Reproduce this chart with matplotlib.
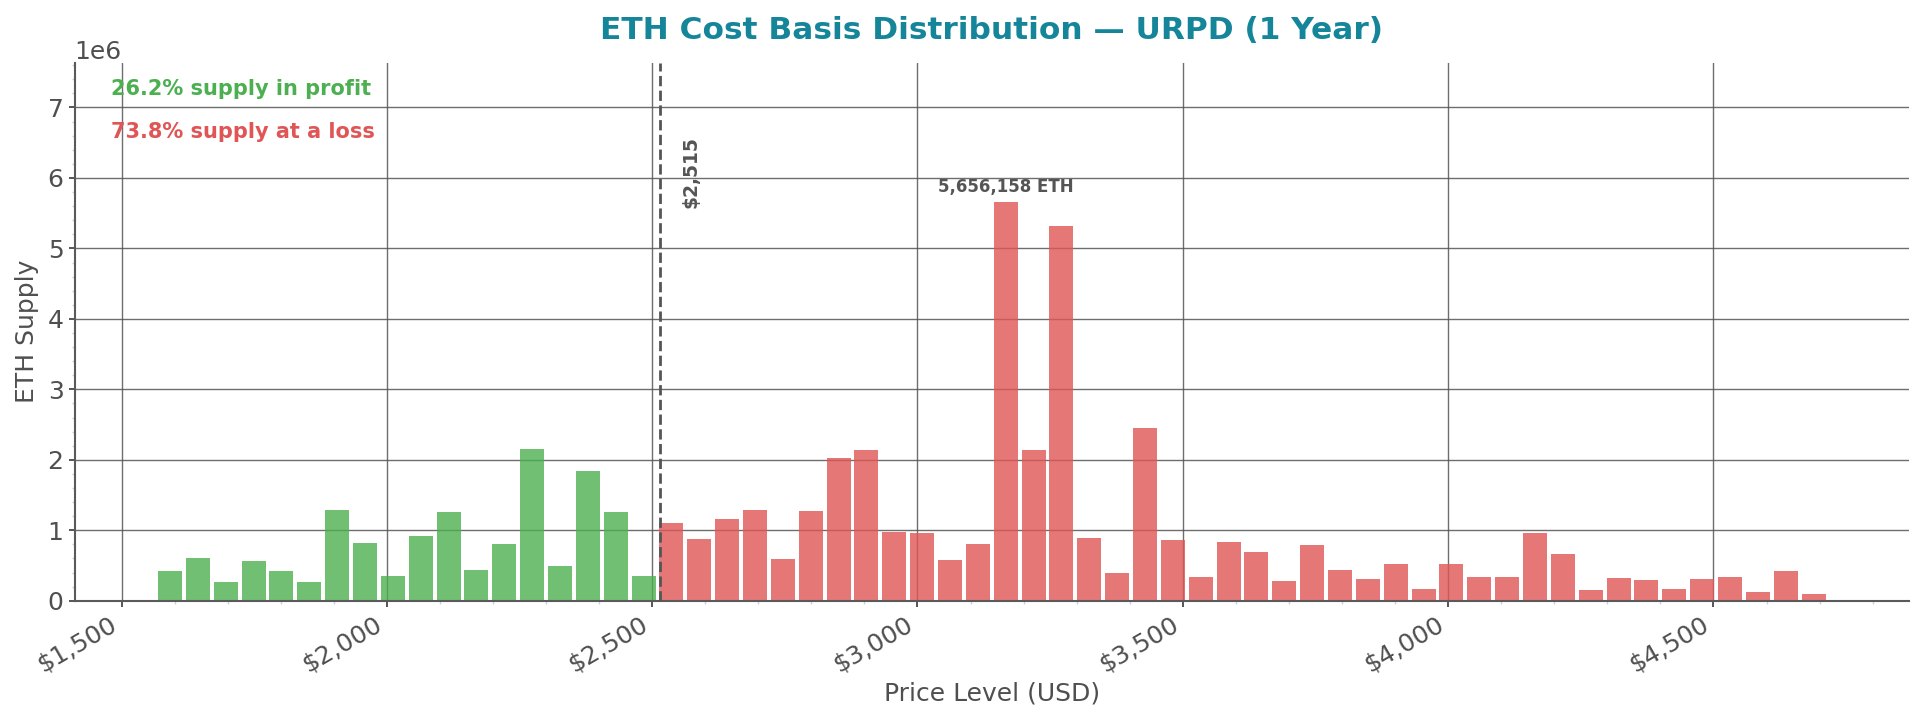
import numpy as np
import matplotlib
matplotlib.use("Agg")
import matplotlib.pyplot as plt
from matplotlib.ticker import MultipleLocator, FuncFormatter

# ---------------- data ----------------
bin_start = 1565.0      # lower edge of first price bin (USD)
bin_width = 52.5        # width of each price bin (USD)
current_price = 2515
pct_in_profit = 26.2
pct_at_loss = 73.8

# ETH supply per price bin (millions of ETH)
supply_profit_m = [0.419, 0.605, 0.262, 0.562, 0.419, 0.262, 1.290, 0.819, 0.348,
                   0.919, 1.262, 0.433, 0.805, 2.148, 0.490, 1.848, 1.262, 0.348]
supply_loss_m = [1.105, 0.876, 1.162, 1.290, 0.590, 1.276, 2.019, 2.133, 0.981,
                 0.962, 0.576, 0.805, 5.656158, 2.133, 5.318, 0.890, 0.390, 2.448,
                 0.862, 0.333, 0.833, 0.690, 0.276, 0.790, 0.433, 0.305, 0.519,
                 0.162, 0.519, 0.333, 0.333, 0.962, 0.662, 0.148, 0.319, 0.290,
                 0.162, 0.305, 0.333, 0.119, 0.419, 0.090]

supply = np.array(supply_profit_m + supply_loss_m) * 1e6
n_bins = len(supply)
centers = bin_start + bin_width * (np.arange(n_bins) + 0.5)
in_profit = centers < current_price

GREEN = "#4caf50"
RED = "#e05555"
TEXT = "#4f4f4f"
TITLE = "#15859a"

plt.rcParams["font.family"] = ["DejaVu Sans"]

fig = plt.figure(figsize=(19.23, 7.19), dpi=100)
ax = fig.add_axes([0.0388, 0.1645, 0.9539, 0.7483])

ax.bar(centers[in_profit], supply[in_profit], width=bin_width * 0.86,
       color=GREEN, alpha=0.8, zorder=2)
ax.bar(centers[~in_profit], supply[~in_profit], width=bin_width * 0.86,
       color=RED, alpha=0.8, zorder=2)

ax.axvline(current_price, color="#555555", linestyle="--", linewidth=2, zorder=3)

peak_i = int(np.argmax(supply))
peak = supply[peak_i]
ax.set_ylim(0, peak * 1.35)

ax.text(current_price + 40, peak * 0.985, f"${current_price:,}", rotation=90,
        ha="left", va="bottom", fontsize=13.5, fontweight="bold", color="#555555")
ax.text(centers[peak_i], peak * 1.015, f"{peak:,.0f} ETH", ha="center",
        va="bottom", fontsize=12, fontweight="bold", color="#555555")

ax.text(0.02, 0.97, f"{pct_in_profit}% supply in profit", transform=ax.transAxes,
        ha="left", va="top", fontsize=15, fontweight="bold", color=GREEN)
ax.text(0.02, 0.89, f"{pct_at_loss}% supply at a loss", transform=ax.transAxes,
        ha="left", va="top", fontsize=15, fontweight="bold", color=RED)

ax.set_title("ETH Cost Basis Distribution — URPD (1 Year)", fontsize=22.5,
             fontweight="bold", color=TITLE, pad=17)
ax.set_xlabel("Price Level (USD)", fontsize=18, color=TEXT, labelpad=4)
ax.set_ylabel("ETH Supply", fontsize=18, color=TEXT, labelpad=6)

ax.xaxis.set_major_locator(MultipleLocator(500))
ax.xaxis.set_minor_locator(MultipleLocator(100))
ax.yaxis.set_major_locator(MultipleLocator(1e6))
ax.yaxis.set_minor_locator(MultipleLocator(2e5))
ax.xaxis.set_major_formatter(FuncFormatter(lambda v, p: f"${v:,.0f}"))

ax.tick_params(which="major", length=4.5, width=1.4, color="#555555",
               labelsize=18, labelcolor=TEXT)
ax.tick_params(which="minor", length=2.4, width=1.0, color="#c8cdea")
ax.yaxis.get_offset_text().set_fontsize(18)
ax.yaxis.get_offset_text().set_color(TEXT)
for lab in ax.get_xticklabels():
    lab.set_rotation(30)
    lab.set_ha("right")

ax.grid(True, which="major", color="#555555", linewidth=1.0, alpha=0.85)
ax.set_axisbelow(True)
for s in ["top", "right"]:
    ax.spines[s].set_visible(False)
for s in ["left", "bottom"]:
    ax.spines[s].set_color("#5a5a5a")
    ax.spines[s].set_linewidth(1.5)

fig.savefig("out.png", dpi=100)
